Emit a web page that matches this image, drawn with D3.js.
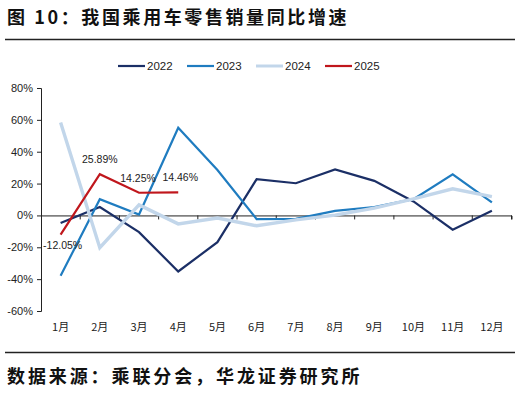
<!DOCTYPE html>
<html>
<head>
<meta charset="utf-8">
<script src="https://cdn.jsdelivr.net/npm/d3@7"></script>
<style>
  body { margin: 0; background: #fff; }
  svg { display: block; }
</style>
</head>
<body>
<div id="chart"></div>
<script>
// Data
const months = ["1月", "2月", "3月", "4月", "5月", "6月", "7月", "8月", "9月", "10月", "11月", "12月"];
const y2022 = [-4.8, 5.3, -10.5, -35.2, -16.8, 22.8, 20.2, 28.9, 21.7, 8.8, -9.0, 3.0];
const y2023 = [-37.9, 10.2, 0.6, 55.0, 28.5, -2.3, -2.2, 2.9, 5.3, 10.2, 25.8, 8.2];
const y2024 = [58.3, -20.3, 6.6, -5.3, -1.6, -6.5, -2.8, 0.2, 4.6, 10.4, 16.7, 11.8];
const y2025 = [-12.05, 25.89, 14.25, 14.46];
const yTicks = [-60, -40, -20, 0, 20, 40, 60, 80];

const seriesList = [
    { name: "2022", values: y2022, color: "#1b2f66", width: 2.2 },
    { name: "2023", values: y2023, color: "#1f7cc0", width: 2.2 },
    { name: "2024", values: y2024, color: "#c2d6ea", width: 3.4 },
    { name: "2025", values: y2025, color: "#c0161c", width: 2.2 }
];

const width = 520;
const height = 393;
const marginLeft = 41;
const plotRight = 511.5;
const yTop = 88;
const yBottom = 311;

const svg = d3.select("#chart")
    .append("svg")
    .attr("width", width)
    .attr("height", height);

// Title
svg.append("text")
    .attr("x", 7)
    .attr("y", 24)
    .attr("font-family", "Noto Sans CJK SC")
    .attr("font-weight", "bold")
    .attr("font-size", 18)
    .attr("letter-spacing", 2.6)
    .attr("fill", "#111")
    .text("图 10：我国乘用车零售销量同比增速");

svg.append("line")
    .attr("x1", 5).attr("x2", 515)
    .attr("y1", 39.5).attr("y2", 39.5)
    .attr("stroke", "#222").attr("stroke-width", 1.3);

// Scales
const xScale = d3.scaleBand()
    .domain(months)
    .range([marginLeft, plotRight]);

const yScale = d3.scaleLinear()
    .domain([-60, 80])
    .range([yBottom, yTop]);

const xPos = i => xScale(months[i]) + xScale.bandwidth() / 2;

// Y axis
const yAxis = d3.axisLeft(yScale)
    .tickValues(yTicks)
    .tickSize(4)
    .tickPadding(4)
    .tickFormat(d => d + "%");
const gy = svg.append("g")
    .attr("transform", `translate(${marginLeft},0)`)
    .call(yAxis);
gy.select(".domain").attr("stroke", "#222").attr("stroke-width", 1);
gy.selectAll(".tick line").attr("stroke", "#222");
gy.selectAll("text")
    .attr("font-family", "Liberation Sans, Arial, sans-serif")
    .attr("font-size", 11)
    .attr("fill", "#222");

// X axis at 0%
const xAxis = d3.axisBottom(xScale)
    .tickSize(4)
    .tickFormat("");
const gx = svg.append("g")
    .attr("transform", `translate(0,${yScale(0)})`)
    .call(xAxis);
gx.select(".domain").attr("stroke", "#222").attr("stroke-width", 1);
// move ticks to category boundaries
gx.selectAll(".tick").attr("transform", d => `translate(${xScale(d) + xScale.bandwidth()},0)`);
gx.selectAll(".tick line").attr("stroke", "#222");

// Month labels at the bottom
svg.append("g")
    .selectAll("text")
    .data(months)
    .enter()
    .append("text")
    .attr("x", (d, i) => xPos(i))
    .attr("y", 331)
    .attr("text-anchor", "middle")
    .attr("font-family", "Noto Sans CJK SC")
    .attr("font-size", 11)
    .attr("fill", "#222")
    .text(d => d);

// Lines
const line = d3.line()
    .x((d, i) => xPos(i))
    .y(d => yScale(d));

svg.append("g")
    .selectAll("path")
    .data(seriesList)
    .enter()
    .append("path")
    .attr("d", d => line(d.values))
    .attr("fill", "none")
    .attr("stroke", d => d.color)
    .attr("stroke-width", d => d.width)
    .attr("stroke-linejoin", "miter");

// Data labels for 2025
const labelOffsets = [
    { dx: 2, dy: 14 },
    { dx: 0, dy: -11 },
    { dx: -1, dy: -11 },
    { dx: 2, dy: -11 }
];
svg.append("g")
    .selectAll("text")
    .data(y2025)
    .enter()
    .append("text")
    .attr("x", (d, i) => xPos(i) + labelOffsets[i].dx)
    .attr("y", (d, i) => yScale(d) + labelOffsets[i].dy)
    .attr("text-anchor", "middle")
    .attr("font-family", "Liberation Sans, Arial, sans-serif")
    .attr("font-size", 10.5)
    .attr("fill", "#222")
    .text(d => d.toFixed(2) + "%");

// Legend
const legend = svg.append("g")
    .selectAll("g")
    .data(seriesList)
    .enter()
    .append("g")
    .attr("transform", (d, i) => `translate(${118 + i * 69},66)`);
legend.append("line")
    .attr("x1", 0).attr("x2", 27)
    .attr("y1", 0).attr("y2", 0)
    .attr("stroke", d => d.color)
    .attr("stroke-width", d => d.width === 3.4 ? 3 : 2.2);
legend.append("text")
    .attr("x", 29)
    .attr("y", 4)
    .attr("font-family", "Liberation Sans, Arial, sans-serif")
    .attr("font-size", 11.5)
    .attr("fill", "#222")
    .text(d => d.name);

// Footer
svg.append("line")
    .attr("x1", 5).attr("x2", 515)
    .attr("y1", 352.5).attr("y2", 352.5)
    .attr("stroke", "#222").attr("stroke-width", 1.3);

svg.append("text")
    .attr("x", 7)
    .attr("y", 383)
    .attr("font-family", "Noto Sans CJK SC")
    .attr("font-weight", "bold")
    .attr("font-size", 18)
    .attr("letter-spacing", 2.9)
    .attr("fill", "#111")
    .text("数据来源：乘联分会，华龙证券研究所");
</script>
</body>
</html>
